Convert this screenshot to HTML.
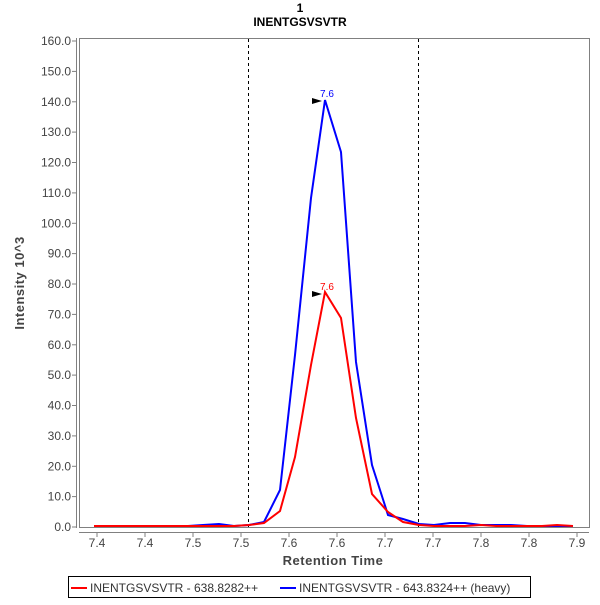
<!DOCTYPE html>
<html><head><style>body{margin:0;background:#fff}</style></head><body>
<svg width="600" height="600" xmlns="http://www.w3.org/2000/svg" font-family="Liberation Sans, DejaVu Sans, sans-serif">
<rect width="600" height="600" fill="#fff"/>
<text x="300" y="12" font-size="12" font-weight="bold" text-anchor="middle">1</text>
<text x="300" y="26" font-size="12" font-weight="bold" text-anchor="middle">INENTGSVSVTR</text>
<rect x="79.5" y="38.5" width="510" height="489" fill="#fff" stroke="#808080"/>
<line x1="76.5" y1="38" x2="76.5" y2="528" stroke="#808080"/>
<line x1="79" y1="532.5" x2="589" y2="532.5" stroke="#808080"/>
<g font-size="12" fill="#444" text-anchor="end">
<text x="71" y="531">0.0</text>
<text x="71" y="500.6">10.0</text>
<text x="71" y="470.3">20.0</text>
<text x="71" y="439.9">30.0</text>
<text x="71" y="409.5">40.0</text>
<text x="71" y="379.1">50.0</text>
<text x="71" y="348.8">60.0</text>
<text x="71" y="318.4">70.0</text>
<text x="71" y="288">80.0</text>
<text x="71" y="257.6">90.0</text>
<text x="71" y="227.3">100.0</text>
<text x="71" y="196.9">110.0</text>
<text x="71" y="166.5">120.0</text>
<text x="71" y="136.1">130.0</text>
<text x="71" y="105.8">140.0</text>
<text x="71" y="75.4">150.0</text>
<text x="71" y="45">160.0</text>
</g>
<g stroke="#808080">
<line x1="72" y1="527" x2="76" y2="527"/><line x1="72" y1="496.6" x2="76" y2="496.6"/><line x1="72" y1="466.3" x2="76" y2="466.3"/><line x1="72" y1="435.9" x2="76" y2="435.9"/><line x1="72" y1="405.5" x2="76" y2="405.5"/><line x1="72" y1="375.1" x2="76" y2="375.1"/><line x1="72" y1="344.8" x2="76" y2="344.8"/><line x1="72" y1="314.4" x2="76" y2="314.4"/><line x1="72" y1="284" x2="76" y2="284"/><line x1="72" y1="253.6" x2="76" y2="253.6"/><line x1="72" y1="223.3" x2="76" y2="223.3"/><line x1="72" y1="192.9" x2="76" y2="192.9"/><line x1="72" y1="162.5" x2="76" y2="162.5"/><line x1="72" y1="132.1" x2="76" y2="132.1"/><line x1="72" y1="101.8" x2="76" y2="101.8"/><line x1="72" y1="71.4" x2="76" y2="71.4"/><line x1="72" y1="41" x2="76" y2="41"/>
<line x1="97" y1="533" x2="97" y2="537"/><line x1="145" y1="533" x2="145" y2="537"/><line x1="193" y1="533" x2="193" y2="537"/><line x1="241" y1="533" x2="241" y2="537"/><line x1="289" y1="533" x2="289" y2="537"/><line x1="337" y1="533" x2="337" y2="537"/><line x1="385" y1="533" x2="385" y2="537"/><line x1="433" y1="533" x2="433" y2="537"/><line x1="481" y1="533" x2="481" y2="537"/><line x1="529" y1="533" x2="529" y2="537"/><line x1="577" y1="533" x2="577" y2="537"/>
</g>
<g font-size="12" fill="#444" text-anchor="middle">
<text x="97" y="547">7.4</text><text x="145" y="547">7.4</text><text x="193" y="547">7.5</text><text x="241" y="547">7.5</text><text x="289" y="547">7.6</text><text x="337" y="547">7.6</text><text x="385" y="547">7.7</text><text x="433" y="547">7.7</text><text x="481" y="547">7.8</text><text x="529" y="547">7.8</text><text x="577" y="547">7.9</text>
</g>
<text x="333" y="565" font-size="13" font-weight="bold" fill="#444" text-anchor="middle" letter-spacing="0.5">Retention Time</text>
<text transform="translate(24,283) rotate(-90)" font-size="13" font-weight="bold" fill="#444" text-anchor="middle" letter-spacing="0.5">Intensity 10^3</text>
<line x1="248.5" y1="39" x2="248.5" y2="527" stroke="#000" stroke-dasharray="3,3"/>
<line x1="418.5" y1="39" x2="418.5" y2="527" stroke="#000" stroke-dasharray="3,3"/>
<polyline fill="none" stroke="#0000ff" stroke-width="2" points="94,526 110,526 126,526 142,526 157,526 173,526 188,526 203,525 219,524 234,526 249,525 264,522 280,490 295,355 311,198 325,100 341,152 356,362 372,465 388,515 403,519 419,524 434,525 450,523 465,523 481,525 496,525 511,525 527,526 542,526 557,526 573,526"/>
<polyline fill="none" stroke="#ff0000" stroke-width="2" points="94,526 110,526 126,526 142,526 157,526 173,526 188,526 203,526 219,526 234,526 249,525 264,523 280,511 295,457 311,365 325,292 341,318 356,418 372,494 388,512 403,522 419,525 434,526 450,526 465,526 481,525 496,526 511,526 527,526 542,526 557,525 573,526"/>
<polygon points="312,98 322,101 312,104" fill="#000"/>
<text x="327" y="97" font-size="10" fill="#0000ff" text-anchor="middle">7.6</text>
<polygon points="312,291 322,294 312,297" fill="#000"/>
<text x="327" y="290" font-size="10" fill="#ff0000" text-anchor="middle">7.6</text>
<rect x="68.5" y="576.5" width="462" height="21" fill="#fff" stroke="#000"/>
<line x1="71" y1="588" x2="87" y2="588" stroke="#ff0000" stroke-width="2"/>
<text x="90" y="592" font-size="12" fill="#333">INENTGSVSVTR - 638.8282++</text>
<line x1="280" y1="588" x2="296" y2="588" stroke="#0000ff" stroke-width="2"/>
<text x="299" y="592" font-size="12" fill="#333">INENTGSVSVTR - 643.8324++ (heavy)</text>
</svg>
</body></html>
